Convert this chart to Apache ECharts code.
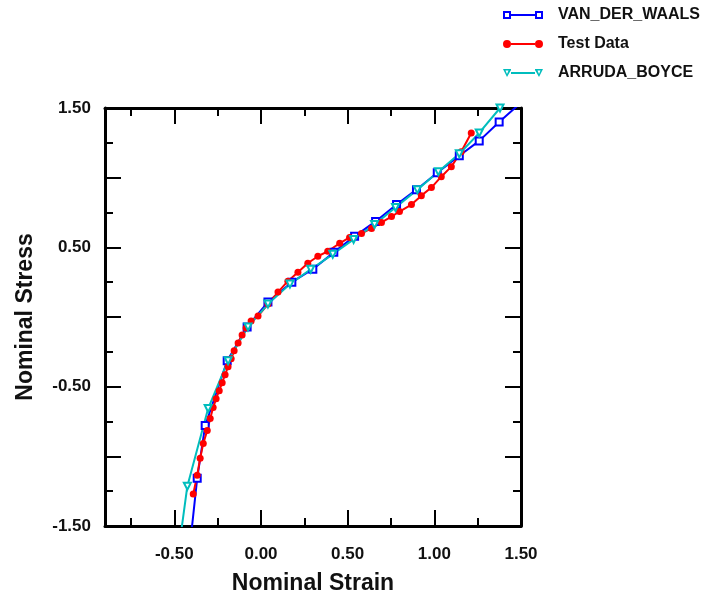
<!DOCTYPE html>
<html>
<head>
<meta charset="utf-8">
<script src="https://cdn.jsdelivr.net/npm/echarts@6/dist/echarts.min.js"></script>
<style>
    html, body { margin: 0; padding: 0; background: #fff; }
    #stress_strain { width: 713px; height: 596px; }
</style>
</head>
<body>
<div id="stress_strain"></div>
<script>

// Data
// -----------------------------

var testStrain = [-0.391, -0.368, -0.351, -0.333, -0.310, -0.293, -0.276, -0.259, -0.241, -0.224,
    -0.207, -0.190, -0.172, -0.155, -0.132, -0.109, -0.086, -0.057, -0.017, 0.040,
    0.098, 0.155, 0.213, 0.270, 0.328, 0.385, 0.454, 0.511, 0.580, 0.638,
    0.695, 0.753, 0.799, 0.868, 0.925, 0.983, 1.040, 1.098, 1.155, 1.213];
var testStress = [-1.271, -1.136, -1.014, -0.907, -0.814, -0.729, -0.650, -0.586, -0.529, -0.471,
    -0.414, -0.357, -0.300, -0.243, -0.186, -0.129, -0.079, -0.029, 0.007, 0.093,
    0.179, 0.257, 0.321, 0.386, 0.436, 0.471, 0.529, 0.571, 0.600, 0.636,
    0.679, 0.721, 0.757, 0.807, 0.871, 0.929, 1.007, 1.079, 1.186, 1.321];

var vdwStrain = [-0.408, -0.368, -0.322, -0.195, -0.080, 0.040, 0.178, 0.299, 0.420, 0.540,
    0.661, 0.782, 0.897, 1.017, 1.144, 1.259, 1.374, 1.517];
var vdwStress = [-1.620, -1.157, -0.779, -0.314, -0.071, 0.107, 0.250, 0.343, 0.464, 0.579,
    0.686, 0.807, 0.914, 1.036, 1.157, 1.264, 1.400, 1.557];

var abStrain = [-0.477, -0.425, -0.305, -0.190, -0.075, 0.040, 0.167, 0.287, 0.414, 0.534,
    0.655, 0.776, 0.902, 1.023, 1.144, 1.259, 1.379];
var abStress = [-1.693, -1.214, -0.657, -0.314, -0.071, 0.093, 0.236, 0.343, 0.450, 0.557,
    0.664, 0.786, 0.914, 1.043, 1.171, 1.321, 1.500];

var xMajorTicks = [-0.5, 0, 0.5, 1.0, 1.5];
var xMinorTicks = [-0.75, -0.25, 0.25, 0.75, 1.25];
var xTickLabels = [-0.5, 0, 0.5, 1.0, 1.5];
var yMajorTicks = [-1.5, -1.0, -0.5, 0, 0.5, 1.0, 1.5];
var yMinorTicks = [-1.25, -0.75, -0.25, 0.25, 0.75, 1.25];
var yTickLabels = [-1.5, -0.5, 0.5, 1.5];

var seriesNames = ['VAN_DER_WAALS', 'Test Data', 'ARRUDA_BOYCE'];


// Helpers
// -----------------------------

var pairs = function (xs, ys) {
    return xs.map(function (x, i) { return [x, ys[i]]; });
};

var fontFamily = '"Liberation Sans", Arial, sans-serif';

// legend icons: a line with a marker at each end (40 x 8 box)
var iconSquares = 'path://M0,0L8,0L8,3L32,3L32,0L40,0L40,8L32,8L32,5L8,5L8,8L0,8Z' +
    'M2,2L2,6L6,6L6,2ZM34,2L34,6L38,6L38,2Z';
var iconCircles = 'path://M0,4A4,4 0 1 1 8,4A4,4 0 1 1 0,4Z' +
    'M8,3L32,3L32,5L8,5Z' +
    'M32,4A4,4 0 1 1 40,4A4,4 0 1 1 32,4Z';
var iconTriangles = 'path://M0,0L8,0L8,3L32,3L32,0L40,0L36,8L32,1L32,5L8,5L8,1L4,8Z' +
    'M2.5,1.5L4,5L5.5,1.5ZM34.5,1.5L36,5L37.5,1.5Z';

// one axis object, optionally with labels
var makeAxis = function (dim, position, ticks, tickLength, labels, showLine) {
    var axis = {
        type: 'value',
        position: position,
        min: dim === 'x' ? -0.9 : -1.5,
        max: 1.5,
        axisLine: {
            show: showLine,
            onZero: false,
            lineStyle: { color: '#000', width: 3 }
        },
        axisTick: {
            show: true,
            inside: true,
            length: tickLength,
            customValues: ticks,
            lineStyle: { color: '#000', width: 2 }
        },
        axisLabel: { show: false },
        splitLine: { show: false }
    };
    if (labels) {
        axis.axisLabel = {
            show: true,
            customValues: labels,
            margin: dim === 'x' ? 20 : 14,
            color: '#111',
            fontFamily: fontFamily,
            fontWeight: 'bold',
            fontSize: 17,
            formatter: function (v) { return v.toFixed(2); }
        };
    }
    return axis;
};


// Chart
// -----------------------------

var chart_element = document.getElementById('stress_strain');
var chart = echarts.init(chart_element);

var xAxes = [
    makeAxis('x', 'bottom', xMajorTicks, 16, xTickLabels, true),
    makeAxis('x', 'bottom', xMinorTicks, 8, null, false),
    makeAxis('x', 'top', xMajorTicks, 16, null, true),
    makeAxis('x', 'top', xMinorTicks, 8, null, false)
];
xAxes[0].name = 'Nominal Strain';
xAxes[0].nameLocation = 'middle';
xAxes[0].nameGap = 46;
xAxes[0].nameTextStyle = { color: '#111', fontFamily: fontFamily, fontWeight: 'bold', fontSize: 23 };

var yAxes = [
    makeAxis('y', 'left', yMajorTicks, 16, yTickLabels, true),
    makeAxis('y', 'left', yMinorTicks, 8, null, false),
    makeAxis('y', 'right', yMajorTicks, 16, null, true),
    makeAxis('y', 'right', yMinorTicks, 8, null, false)
];
yAxes[0].name = 'Nominal Stress';
yAxes[0].nameLocation = 'middle';
yAxes[0].nameGap = 68;
yAxes[0].nameTextStyle = { color: '#111', fontFamily: fontFamily, fontWeight: 'bold', fontSize: 23 };

chart.setOption({
    animation: false,
    backgroundColor: '#fff',

    grid: {
        left: 105,
        right: 192,
        top: 108,
        bottom: 70,
        containLabel: false,
        outerBoundsMode: 'none'
    },

    legend: {
        data: [
            { name: seriesNames[0], icon: iconSquares },
            { name: seriesNames[1], icon: iconCircles },
            { name: seriesNames[2], icon: iconTriangles }
        ],
        orient: 'vertical',
        left: 503,
        top: 7,
        padding: 0,
        itemWidth: 40,
        itemHeight: 8,
        itemGap: 13,
        textStyle: {
            color: '#111',
            fontFamily: fontFamily,
            fontWeight: 'bold',
            fontSize: 16,
            padding: [0, 0, 0, 10]
        }
    },

    xAxis: xAxes,
    yAxis: yAxes,

    series: [
        {
            name: seriesNames[0],
            type: 'line',
            data: pairs(vdwStrain, vdwStress),
            symbol: 'emptyRect',
            symbolSize: 7,
            color: '#0000ff',
            lineStyle: { width: 2 },
            itemStyle: { borderWidth: 1.5 }
        },
        {
            name: seriesNames[1],
            type: 'line',
            data: pairs(testStrain, testStress),
            symbol: 'circle',
            symbolSize: 7,
            color: '#ff0000',
            lineStyle: { width: 2 }
        },
        {
            name: seriesNames[2],
            type: 'line',
            data: pairs(abStrain, abStress),
            symbol: 'emptyTriangle',
            symbolRotate: 180,
            symbolSize: 7,
            color: '#00bdbd',
            lineStyle: { width: 2 },
            itemStyle: { borderWidth: 1.5 }
        }
    ]
});

</script>
</body>
</html>
